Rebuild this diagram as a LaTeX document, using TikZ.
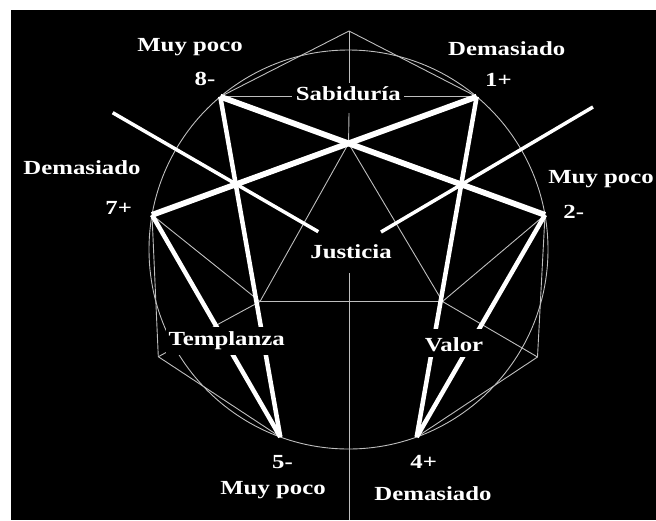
\documentclass[tikz,border=0pt]{standalone}
\usepackage{fontspec}
\newfontfamily\labfont{Liberation Serif}[FakeStretch=1.24]
\definecolor{guidegray}{RGB}{190,190,190}
\begin{document}
\begin{tikzpicture}[x=1pt,y=-1pt,
  guide/.style={draw=guidegray, line width=0.9pt},
  heavy/.style={draw=white, line width=5.8pt},
  side/.style={draw=white, line width=4.5pt},
  pointer/.style={draw=white, line width=3.5pt},
  lab/.style={text=white, font=\labfont\bfseries\fontsize{20}{24}\selectfont, anchor=base, inner sep=0pt},
  mask/.style={fill=black, inner sep=3.5pt}]
\fill[white] (0,0) rectangle (656,520);
\fill[black] (11,10) rectangle (656,520);
\useasboundingbox (0,0) rectangle (656,520);
% enneagram points
\coordinate (O) at (348.5,249.5);
\coordinate (P1) at (476.7,96.7);
\coordinate (P2) at (545,214.9);
\coordinate (P4) at (416.7,437);
\coordinate (P5) at (280.3,437);
\coordinate (P7) at (152,214.9);
\coordinate (P8) at (220.3,96.7);
\coordinate (C) at (intersection of P8--P2 and P7--P1);
\coordinate (A) at (349,31);
\coordinate (VS) at (349,92);
\coordinate (VT) at (349,113);
\coordinate (P6) at (158.3,356.7);
\coordinate (P3) at (537.5,357);
\coordinate (L) at (260,301.5);
\coordinate (R) at (442.5,301.5);
\coordinate (VB1) at (349,273);
\coordinate (VB2) at (349,520);
\coordinate (QL1) at (112.7,112.7);
\coordinate (QL2) at (318.3,231.7);
\coordinate (QR1) at (593,107);
\coordinate (QR2) at (381,232);
% thin guide lines
\draw[guide] (O) circle[radius=199.5pt];
\draw[guide] (P8) -- (A) -- (P1);
\draw[guide] (A) -- (VS);
\draw[guide] (VT) -- (C);
\draw[guide] (P8) -- (P1);
\draw[guide] (P7) -- (P6) -- (P5);
\draw[guide] (P2) -- (P3) -- (P4);
\draw[guide] (C) -- (L) -- (R) -- cycle;
\draw[guide] (P7) -- (L) -- (P6);
\draw[guide] (P2) -- (R) -- (P3);
\draw[guide] (VB1) -- (VB2);
% thick lines
\draw[heavy] (P8) -- (P2);
\draw[heavy] (P1) -- (P7);
\draw[side] (P8) -- (P5);
\draw[side] (P7) -- (P5);
\draw[side] (P1) -- (P4);
\draw[side] (P2) -- (P4);
\draw[pointer] (QL1) -- (QL2);
\draw[pointer] (QR1) -- (QR2);
% labels
\node[lab] (mp8) at (190,51.7) {Muy poco};
\node[lab] (n8) at (205,85) {8-};
\node[lab] (dm1) at (506.7,55.7) {Demasiado};
\node[lab] (n1) at (498.5,86.7) {1+};
\node[lab] (dm7) at (82,174) {Demasiado};
\node[lab] (n7) at (118.7,214) {7+};
\node[lab] (mp2) at (601,183) {Muy poco};
\node[lab] (n2) at (573.7,218) {2-};
\node[lab,mask] (sab) at (348.3,100) {Sabiduría};
\node[lab] (jus) at (351,258.3) {Justicia};
\node[lab,mask,inner sep=3pt,text height=15pt,text depth=7pt] (tem) at (226.7,345) {Templanza};
\node[lab,mask,inner sep=3pt,text height=20pt,text depth=2pt] (val) at (454,351.7) {Valor};
\node[lab] (n5) at (282.5,468.3) {5-};
\node[lab] (mp5) at (273,494) {Muy poco};
\node[lab] (n4) at (423.7,468.3) {4+};
\node[lab] (dm4) at (433,500) {Demasiado};
\end{tikzpicture}
\end{document}
